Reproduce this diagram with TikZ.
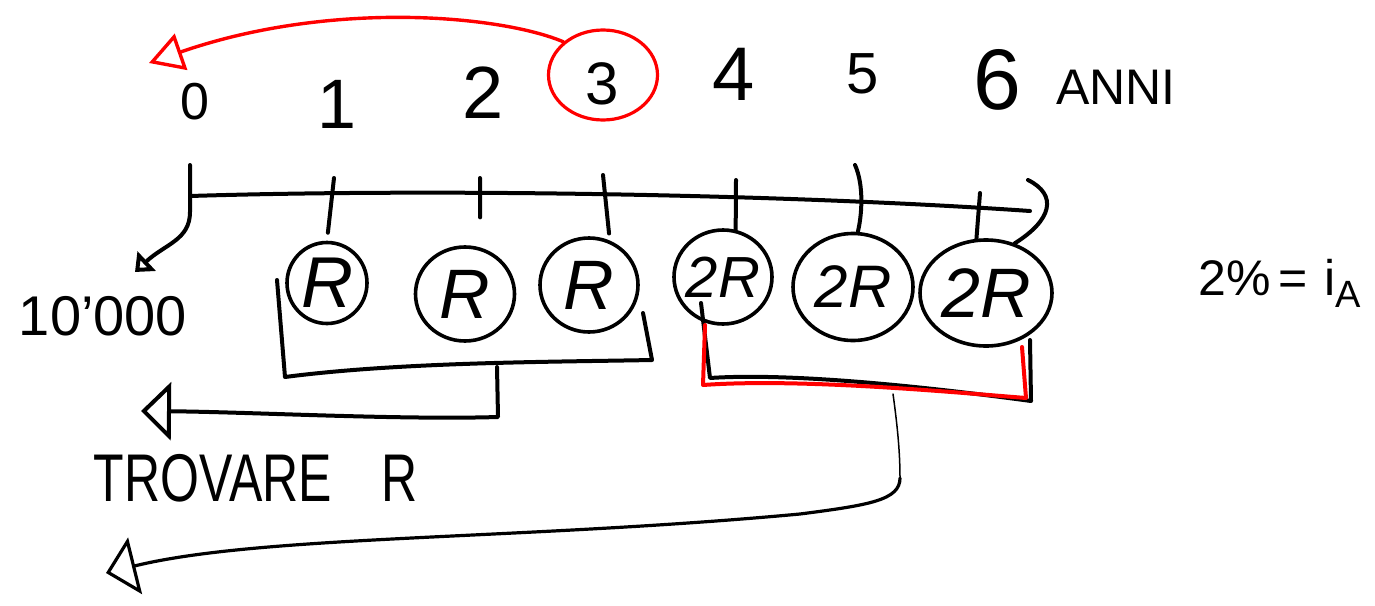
\documentclass[tikz,border=0pt]{standalone}
\usepackage{fontspec}
\setmainfont{Liberation Sans}
\usetikzlibrary{shapes.geometric,arrows.meta}
\begin{document}
\begin{tikzpicture}[x=1pt,y=-1pt,
  ink/.style={line width=4pt, line cap=round, line join=round},
  thinink/.style={line width=1.5pt, line cap=round},
  redink/.style={ink, draw=red},
  lbl/.style={inner sep=0pt, font=\fontsize{#1}{#1}\selectfont},
  coin/.style={ellipse, draw, line width=3.6pt, inner sep=-12pt,
    font=\fontsize{#1}{#1}\selectfont\itshape},
  bigtip/.style={-{Triangle[open, length=34pt, width=38pt]}},
  midtip/.style={-{Triangle[open, length=30pt, width=58pt]}},
  smalltip/.style={-{Triangle[open, length=16pt, width=26pt]}},
]
\useasboundingbox (0,0) rectangle (1375,605);

% years on the time line
\node[lbl=52] (y0) at (195,102) {0};
\node[lbl=70] (y1) at (337,104) {1};
\node[lbl=74] (y2) at (483,93) {2};
\node[lbl=60] (y3) at (602,84) {3};
\node[lbl=76] (y4) at (734,74) {4};
\node[lbl=58] (y5) at (863,74) {5};
\node[lbl=86] (y6) at (997,80) {6};
\node[lbl=50, anchor=west] (anni) at (1056,87) {ANNI};

% year 3 circled, sent back to year 0
\node[ellipse, draw=red, line width=3.2pt, minimum width=109pt,
  minimum height=90pt, inner sep=0pt] (ring3) at (603,75) {};
\coordinate (back0) at (149,63);
\draw[redink, line width=3.4pt, bigtip] (ring3.140) .. controls (500,15) and (330,0) .. (back0);

% payments
\node[coin=72, minimum width=80pt, minimum height=81pt] (c1) at (327,283) {R};
\node[coin=70, minimum width=99pt, minimum height=94pt] (c2) at (465,294) {R};
\node[coin=70, minimum width=98pt, minimum height=94pt] (c3) at (589,285) {R};
\node[coin=58, minimum width=98pt, minimum height=94pt] (c4) at (723,277) {2R};
\node[coin=60, minimum width=120pt, minimum height=107pt] (c5) at (853,287) {2R};
\node[coin=70, minimum width=132pt, minimum height=106pt] (c6) at (986,293) {2R};

% time axis
\coordinate (t0) at (190,196);
\coordinate (tEnd) at (1030,211);
\draw[ink] (t0) .. controls (450,188) and (800,195) .. (tEnd);
\coordinate (hook) at (1028,180);
\draw[ink] (hook) .. controls (1058,195) and (1052,220) .. (c6.60);

% tick 0 and the initial amount
\coordinate (k0) at (190,165);
\coordinate (lend) at (135,272);
\draw[ink, smalltip] (k0) -- (190,212) .. controls (190,240) and (165,244) .. (lend);
\node[lbl=56] (amount) at (103,316) {10'000};

% ticks 1..6
\coordinate (k1) at (334,178);
\coordinate (k2) at (480,178);
\coordinate (k3) at (603,175);
\coordinate (k4) at (736,180);
\coordinate (k5) at (855,165);
\coordinate (k6) at (980,193);
\draw[ink, shorten >=8pt] (k1) -- (c1.north);
\draw[ink, shorten >=30pt] (k2) -- (c2.72);
\draw[ink, shorten >=7pt] (k3) -- (c3.65);
\draw[ink] (k4) -- (c4.75);
\draw[ink] (k5) .. controls (864,185) and (862,215) .. (c5.85);
\draw[ink] (k6) -- (c6.100);

% first group of payments
\coordinate (bl1) at (277,280);
\coordinate (bl2) at (285,377);
\coordinate (bl3) at (652,360);
\coordinate (bl4) at (643,313);
\coordinate (blm) at (497,367);
\draw[ink] (bl1) -- (bl2) .. controls (400,362) and (550,362) .. (bl3) -- (bl4);
\coordinate (findR) at (141,411);
\draw[ink, midtip] (blm) -- (498,417) .. controls (400,420) and (250,412) .. (findR);
\node[lbl=50] (find) at (256,478) {\scalebox{1}[1.35]{TROVARE\hspace{1em}R}};

% second group of payments
\coordinate (br1) at (701,303);
\coordinate (br2) at (710,378);
\coordinate (br3) at (1031,401);
\coordinate (br4) at (1030,340);
\draw[ink] (br1) -- (br2) .. controls (800,372) and (950,390) .. (br3) -- (br4);
\coordinate (rr1) at (705,325);
\coordinate (rr2) at (703,385);
\coordinate (rr3) at (1026,398);
\coordinate (rr4) at (1022,347);
\draw[redink] (rr1) -- (rr2) .. controls (800,378) and (950,392) .. (rr3) -- (rr4);
\coordinate (brm) at (893,394);
\coordinate (bend) at (900,478);
\coordinate (lastR) at (106,573);
\draw[thinink] (brm) .. controls (898,430) and (900,455) .. (bend);
\draw[line width=3.2pt, line cap=round, midtip] (bend) .. controls (900,500) and (870,505) .. (800,514)
  .. controls (520,540) and (260,535) .. (lastR);

% rate
\node[lbl=50, anchor=west] (rate) at (1198,283)
  {2\%\,=\,\,i\raisebox{-12pt}{\fontsize{38}{38}\selectfont A}};
\end{tikzpicture}
\end{document}
